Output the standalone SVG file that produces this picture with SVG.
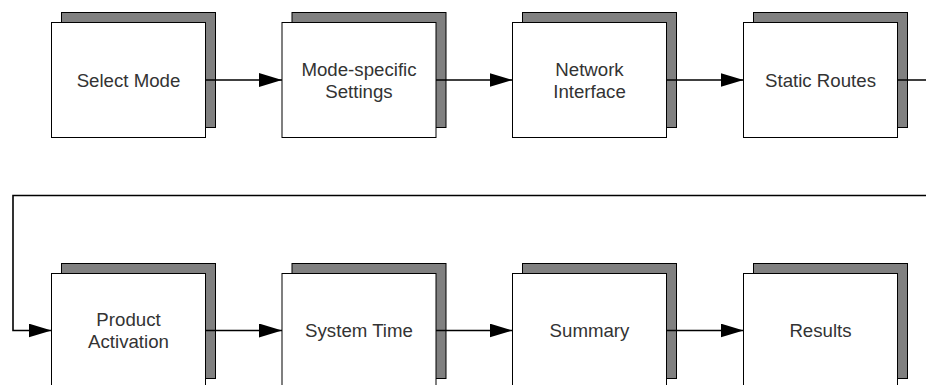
<svg xmlns="http://www.w3.org/2000/svg" width="926" height="385" viewBox="0 0 926 385">
<style>
.back{fill:#808080;stroke:#000;stroke-width:1}
.front{fill:#fff;stroke:#000;stroke-width:1}
.lbl{font-family:"Liberation Sans",Arial,sans-serif;font-size:18.67px;fill:#333;text-anchor:middle}
.conn{fill:none;stroke:#000;stroke-width:1.6}
</style>
<defs>
<marker id="arr" markerUnits="userSpaceOnUse" markerWidth="24" markerHeight="16" refX="23" refY="7" orient="auto">
<path d="M0,0 L23,7 L0,14 z" fill="#000"/>
</marker>
</defs>
<rect width="926" height="385" fill="#fff"/>
<g id="n1"><rect class="back" x="61.5" y="12.5" width="154" height="115"/><rect class="front" x="51.5" y="22.5" width="154" height="115"/><text class="lbl" x="128.5" y="86.7">Select Mode</text></g>
<g id="n2"><rect class="back" x="292" y="12.5" width="154" height="115"/><rect class="front" x="282" y="22.5" width="154" height="115"/><text class="lbl" x="359" y="75.7">Mode-specific</text><text class="lbl" x="359" y="97.7">Settings</text></g>
<g id="n3"><rect class="back" x="522.5" y="12.5" width="154" height="115"/><rect class="front" x="512.5" y="22.5" width="154" height="115"/><text class="lbl" x="589.5" y="75.7">Network</text><text class="lbl" x="589.5" y="97.7">Interface</text></g>
<g id="n4"><rect class="back" x="753.5" y="12.5" width="154" height="115"/><rect class="front" x="743.5" y="22.5" width="154" height="115"/><text class="lbl" x="820.5" y="86.7">Static Routes</text></g>
<g id="n5"><rect class="back" x="61.5" y="263.5" width="154" height="115"/><rect class="front" x="51.5" y="273.5" width="154" height="115"/><text class="lbl" x="128.5" y="325.7">Product</text><text class="lbl" x="128.5" y="347.7">Activation</text></g>
<g id="n6"><rect class="back" x="292" y="263.5" width="154" height="115"/><rect class="front" x="282" y="273.5" width="154" height="115"/><text class="lbl" x="359" y="337.2">System Time</text></g>
<g id="n7"><rect class="back" x="522.5" y="263.5" width="154" height="115"/><rect class="front" x="512.5" y="273.5" width="154" height="115"/><text class="lbl" x="589.5" y="337.2">Summary</text></g>
<g id="n8"><rect class="back" x="753.5" y="263.5" width="154" height="115"/><rect class="front" x="743.5" y="273.5" width="154" height="115"/><text class="lbl" x="820.5" y="337.2">Results</text></g>
<g id="connectors">
<path class="conn" d="M205.5,80 H282" marker-end="url(#arr)"/>
<path class="conn" d="M436,80 H512.5" marker-end="url(#arr)"/>
<path class="conn" d="M666.5,80 H743.5" marker-end="url(#arr)"/>
<path class="conn" d="M897.5,80 H935 V195.5 H13 V330.5 H51.5" marker-end="url(#arr)"/>
<path class="conn" d="M205.5,330.5 H282" marker-end="url(#arr)"/>
<path class="conn" d="M436,330.5 H512.5" marker-end="url(#arr)"/>
<path class="conn" d="M666.5,330.5 H743.5" marker-end="url(#arr)"/>
</g>
</svg>
